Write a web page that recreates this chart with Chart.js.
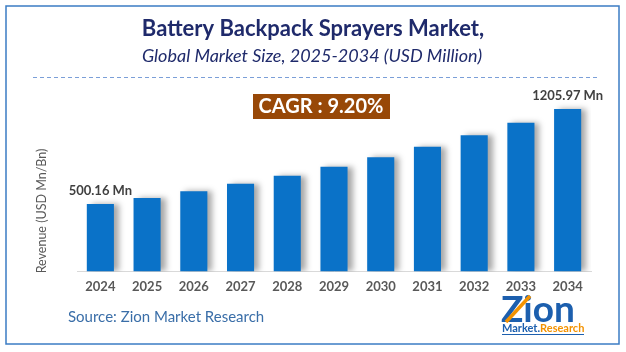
<!DOCTYPE html>
<html>
<head>
<meta charset="utf-8">
<script src="https://cdn.jsdelivr.net/npm/chart.js@4.4.1/dist/chart.umd.min.js"></script>
<style>
  html, body { margin: 0; padding: 0; background: #fff; }
  #wrap { width: 626px; height: 352px; position: relative; }
</style>
</head>
<body>
<div id="wrap"><canvas id="myChart" width="626" height="352"></canvas></div>
<script>
const years = ['2024', '2025', '2026', '2027', '2028', '2029', '2030', '2031', '2032', '2033', '2034'];
const revenue = [500.16, 546, 596, 651, 711, 777, 848, 926, 1011, 1104, 1205.97];
const barLabels = ['500.16 Mn', '', '', '', '', '', '', '', '', '', '1205.97 Mn'];
const cagrText = 'CAGR : 9.20%';

const ctx = document.getElementById('myChart').getContext('2d');

// sombra gris a la derecha de cada barra
const barShadow = {
  id: 'barShadow',
  beforeDatasetsDraw(chart) {
    const c = chart.ctx;
    c.save();
    c.shadowColor = 'rgba(0,0,0,0.35)';
    c.shadowBlur = 6;
    c.shadowOffsetX = 5;
    c.shadowOffsetY = 0;
  },
  afterDatasetsDraw(chart) {
    chart.ctx.restore();
  }
};

// textos, marco, caja CAGR y logo
const decor = {
  id: 'decor',
  afterDraw(chart) {
    const c = chart.ctx;
    c.save();

    // marco
    c.strokeStyle = '#3b7cc4';
    c.lineWidth = 1.5;
    c.strokeRect(6, 6, 613, 338);

    // titulo
    c.textAlign = 'center';
    c.textBaseline = 'middle';
    c.fillStyle = '#1f2a6b';
    c.font = 'bold 22px Lato';
    c.fillText('Battery Backpack Sprayers Market,', 313, 29);
    c.font = 'italic 18px Lato';
    c.fillText('Global Market Size, 2025-2034 (USD Million)', 312, 56);

    // linea discontinua
    c.strokeStyle = '#7b9fd8';
    c.lineWidth = 1;
    c.setLineDash([4, 3]);
    c.beginPath();
    c.moveTo(33, 77.5);
    c.lineTo(599, 77.5);
    c.stroke();
    c.setLineDash([]);

    // caja CAGR
    c.fillStyle = '#984807';
    c.fillRect(253, 94, 137, 25);
    c.fillStyle = '#ffffff';
    c.font = 'bold 20px Lato';
    c.fillText(cagrText, 321, 107);

    // etiquetas de barras
    const meta = chart.getDatasetMeta(0);
    c.fillStyle = '#404040';
    c.font = 'bold 13px Lato';
    meta.data.forEach((bar, i) => {
      if (barLabels[i]) c.fillText(barLabels[i], bar.x, bar.y - 13);
    });

    // titulo eje y
    c.save();
    c.translate(42, 211);
    c.rotate(-Math.PI / 2);
    c.fillStyle = '#595959';
    c.font = '12.5px Lato';
    c.fillText('Revenue (USD Mn/Bn)', 0, 0);
    c.restore();

    // fuente
    c.textAlign = 'left';
    c.fillStyle = '#3a6ea8';
    c.font = '15px Lato';
    c.fillText('Source: Zion Market Research', 68, 317);

    // logo
    c.textAlign = 'left';
    c.fillStyle = '#1c5fae';
    c.font = 'bold 37px Lato';
    c.fillText('Zion', 501, 310);
    c.strokeStyle = '#f39200';
    c.lineWidth = 3.5;
    c.beginPath();
    c.moveTo(506, 322);
    c.lineTo(530, 296);
    c.stroke();
    c.font = 'bold 11px Lato';
    c.fillStyle = '#1c5fae';
    c.fillText('Market.', 502, 328);
    const mw = c.measureText('Market.').width;
    c.fillStyle = '#f39200';
    c.fillText('Research', 502 + mw, 328);
    c.strokeStyle = '#1c5fae';
    c.lineWidth = 1;
    c.beginPath();
    c.moveTo(502, 334.5);
    c.lineTo(584, 334.5);
    c.stroke();

    c.restore();
  }
};

new Chart(ctx, {
  type: 'bar',
  data: {
    labels: years,
    datasets: [{
      data: revenue,
      backgroundColor: '#0a72c8',
      borderWidth: 0,
      barPercentage: 0.58,
      categoryPercentage: 1
    }]
  },
  options: {
    responsive: false,
    animation: false,
    layout: { padding: { left: 77, right: 35, top: 83, bottom: 57 } },
    scales: {
      y: {
        display: false,
        min: 0,
        max: 1400
      },
      x: {
        grid: { display: false },
        border: { display: true, color: '#d9d9d9', width: 1 },
        ticks: {
          color: '#595959',
          font: { family: 'Lato', size: 13, weight: 'bold' },
          padding: 0
        }
      }
    },
    plugins: {
      legend: { display: false },
      tooltip: { enabled: false }
    }
  },
  plugins: [barShadow, decor]
});
</script>
</body>
</html>
